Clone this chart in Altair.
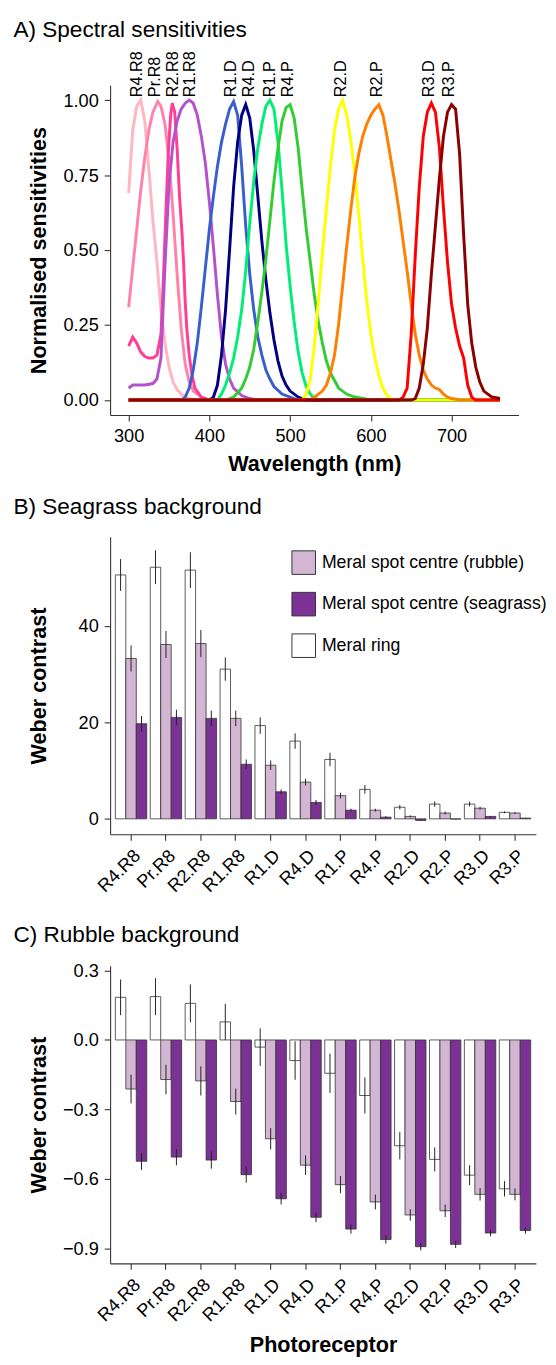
import altair as alt
import pandas as pd

FONT = "Liberation Sans"
AXC = "#333333"

# ---------------- Panel A: spectral sensitivities ----------------
curve_names = ["R4.R8", "Pr.R8", "R2.R8", "R1.R8", "R1.D", "R4.D",
               "R1.P", "R4.P", "R2.D", "R2.P", "R3.D", "R3.P"]
curve_colors = ["#FFB6C1", "#FF82AB", "#FF3E96", "#B452CD", "#3A5FCD", "#000080",
                "#00EE76", "#32CD32", "#FFFF00", "#FF7F00", "#FF0000", "#8B0000"]
label_wl = [311, 333, 355, 376, 427, 449, 475, 498, 563, 608, 672, 697]
label_y = 1.01

r4r8_wl = [300, 305, 310, 315, 320, 325, 330, 335, 340, 345, 350, 355, 360, 365, 370, 380, 760]
r4r8_v = [0.69, 0.90, 0.98, 1.00, 0.93, 0.77, 0.60, 0.46, 0.30, 0.19, 0.11, 0.06, 0.035, 0.02, 0.01, 0.0, 0.0]

prr8_wl = [300, 305, 310, 315, 320, 325, 330, 336, 340, 345, 350, 355, 360, 365, 370, 375, 380, 390, 400, 760]
prr8_v = [0.31, 0.44, 0.57, 0.70, 0.81, 0.90, 0.96, 0.995, 0.98, 0.92, 0.80, 0.62, 0.42, 0.24, 0.12, 0.06, 0.03, 0.01, 0.0, 0.0]

r2r8_wl = [300, 305, 310, 315, 320, 325, 330, 335, 340, 343, 346, 349, 352, 354, 357, 360, 363,
           366, 368, 370, 372, 375, 378, 382, 390, 400, 760]
r2r8_v = [0.18, 0.21, 0.19, 0.16, 0.145, 0.14, 0.14, 0.15, 0.22, 0.40, 0.62, 0.82, 0.95, 0.99, 0.96, 0.84, 0.68,
          0.56, 0.46, 0.33, 0.24, 0.15, 0.09, 0.04, 0.01, 0.0, 0.0]

r1r8_wl = [300, 305, 310, 320, 330, 335, 340, 345, 350, 355, 360, 365, 370, 375, 380, 385, 390, 395,
           400, 405, 410, 415, 420, 425, 430, 440, 450, 460, 760]
r1r8_v = [0.04, 0.05, 0.05, 0.05, 0.055, 0.07, 0.14, 0.45, 0.72, 0.86, 0.93, 0.97, 0.99, 1.0, 0.99, 0.95, 0.88, 0.79,
          0.66, 0.51, 0.35, 0.21, 0.12, 0.07, 0.04, 0.015, 0.005, 0.0, 0.0]

r1d_wl = [300, 365, 370, 375, 380, 385, 390, 395, 400, 405, 410, 415, 420, 425, 430, 435, 440, 445,
          450, 455, 460, 465, 470, 475, 480, 490, 500, 510, 760]
r1d_v = [0.0, 0.0, 0.01, 0.04, 0.10, 0.19, 0.31, 0.44, 0.57, 0.68, 0.78, 0.86, 0.92, 0.97, 0.995, 0.95, 0.78, 0.58,
         0.42, 0.30, 0.21, 0.15, 0.10, 0.07, 0.045, 0.02, 0.01, 0.0, 0.0]

r4d_wl = [300, 400, 405, 410, 415, 420, 425, 430, 435, 440, 445, 450, 455, 460, 465, 470, 475, 480,
          485, 490, 495, 500, 510, 520, 760]
r4d_v = [0.0, 0.0, 0.01, 0.05, 0.15, 0.30, 0.50, 0.71, 0.86, 0.95, 0.985, 0.94, 0.83, 0.68, 0.53, 0.40, 0.29, 0.20,
         0.13, 0.08, 0.05, 0.03, 0.01, 0.0, 0.0]

r1p_wl = [300, 410, 415, 420, 425, 430, 435, 440, 445, 450, 455, 460, 465, 470, 475, 480, 485, 490,
          495, 500, 505, 510, 515, 520, 525, 530, 540, 760]
r1p_v = [0.0, 0.0, 0.02, 0.05, 0.09, 0.14, 0.21, 0.30, 0.43, 0.59, 0.73, 0.84, 0.92, 0.98, 1.0, 0.97, 0.86, 0.70,
         0.52, 0.38, 0.26, 0.16, 0.09, 0.045, 0.02, 0.005, 0.0, 0.0]

r4p_wl = [300, 420, 430, 440, 445, 450, 455, 460, 465, 470, 475, 480, 485, 490, 495, 500, 505, 510,
          515, 520, 525, 530, 535, 540, 545, 550, 560, 570, 580, 600, 760]
r4p_v = [0.0, 0.0, 0.01, 0.04, 0.07, 0.11, 0.17, 0.26, 0.36, 0.47, 0.60, 0.73, 0.84, 0.93, 0.975, 0.985, 0.94, 0.84,
         0.70, 0.57, 0.46, 0.35, 0.26, 0.19, 0.13, 0.09, 0.04, 0.02, 0.01, 0.0, 0.0]

r2d_wl = [300, 515, 520, 525, 530, 535, 540, 545, 550, 555, 560, 565, 570, 575, 580, 585, 590, 595,
          600, 605, 610, 615, 620, 625, 630, 760]
r2d_v = [0.0, 0.0, 0.02, 0.07, 0.18, 0.33, 0.49, 0.64, 0.78, 0.90, 0.97, 1.0, 0.95, 0.87, 0.76, 0.62, 0.47, 0.33,
         0.22, 0.14, 0.08, 0.04, 0.015, 0.005, 0.0, 0.0]

r2p_wl = [300, 525, 530, 540, 545, 550, 555, 560, 565, 570, 575, 580, 585, 590, 595, 600, 605, 610,
          615, 620, 625, 630, 635, 640, 645, 650, 655, 660, 665, 670, 675, 680, 685, 690, 695, 700, 710, 760]
r2p_v = [0.0, 0.0, 0.01, 0.03, 0.05, 0.09, 0.15, 0.25, 0.38, 0.51, 0.63, 0.74, 0.82, 0.88, 0.92, 0.95, 0.97, 0.985,
         0.95, 0.88, 0.80, 0.72, 0.63, 0.53, 0.43, 0.32, 0.22, 0.15, 0.10, 0.07, 0.05, 0.04, 0.035, 0.02, 0.01, 0.005,
         0.0, 0.0]

r3d_wl = [300, 635, 640, 645, 650, 655, 660, 665, 670, 675, 680, 685, 690, 695, 700, 705, 710, 715,
          720, 725, 730, 760]
r3d_v = [0.0, 0.0, 0.01, 0.04, 0.22, 0.48, 0.71, 0.88, 0.96, 0.99, 0.96, 0.84, 0.64, 0.46, 0.32, 0.24, 0.18, 0.14,
         0.05, 0.01, 0.0, 0.0]

r3p_wl = [300, 650, 655, 660, 665, 670, 675, 680, 685, 690, 695, 700, 705, 710, 715, 720, 725, 730,
          735, 740, 745, 750, 760]
r3p_v = [0.0, 0.0, 0.005, 0.04, 0.12, 0.24, 0.42, 0.58, 0.74, 0.88, 0.96, 0.985, 0.97, 0.82, 0.55, 0.32, 0.19, 0.11,
         0.06, 0.03, 0.02, 0.01, 0.005]

curve_data = [(r4r8_wl, r4r8_v), (prr8_wl, prr8_v), (r2r8_wl, r2r8_v), (r1r8_wl, r1r8_v),
              (r1d_wl, r1d_v), (r4d_wl, r4d_v), (r1p_wl, r1p_v), (r4p_wl, r4p_v),
              (r2d_wl, r2d_v), (r2p_wl, r2p_v), (r3d_wl, r3d_v), (r3p_wl, r3p_v)]

# ---------------- Panels B & C: Weber contrasts ----------------
receptors = ["R4.R8", "Pr.R8", "R2.R8", "R1.R8", "R1.D", "R4.D",
             "R1.P", "R4.P", "R2.D", "R2.P", "R3.D", "R3.P"]
groups = ["Meral spot centre (rubble)", "Meral spot centre (seagrass)", "Meral ring"]
dodge_order = ["Meral ring", "Meral spot centre (rubble)", "Meral spot centre (seagrass)"]
group_colors = ["#D3B6D3", "#7B3294", "#FFFFFF"]

sg_ring = [50.5, 52.1, 51.5, 31.0, 19.3, 16.1, 12.3, 6.1, 2.4, 3.05, 3.05, 1.35]
sg_ring_se = [3.3, 3.5, 3.7, 2.4, 1.7, 1.6, 1.4, 0.9, 0.45, 0.55, 0.5, 0.2]
sg_rubble = [33.2, 36.1, 36.3, 20.8, 11.1, 7.6, 4.8, 1.8, 0.5, 1.2, 2.2, 1.2]
sg_rubble_se = [2.7, 2.8, 2.8, 1.6, 1.0, 0.7, 0.6, 0.3, 0.2, 0.3, 0.3, 0.2]
sg_seagrass = [19.7, 21.0, 20.8, 11.3, 5.6, 3.4, 1.8, 0.35, -0.33, -0.05, 0.5, 0.15]
sg_seagrass_se = [1.6, 1.6, 1.6, 1.0, 0.5, 0.5, 0.3, 0.2, 0.1, 0.05, 0.1, 0.05]

rb_ring = [0.184, 0.187, 0.158, 0.078, -0.031, -0.089, -0.144, -0.240, -0.457, -0.516, -0.584, -0.643]
rb_ring_se = [0.077, 0.080, 0.082, 0.078, 0.081, 0.083, 0.085, 0.078, 0.059, 0.052, 0.043, 0.033]
rb_rubble = [-0.212, -0.171, -0.177, -0.266, -0.427, -0.541, -0.625, -0.700, -0.756, -0.738, -0.667, -0.667]
rb_rubble_se = [0.062, 0.064, 0.063, 0.056, 0.046, 0.042, 0.037, 0.032, 0.025, 0.027, 0.027, 0.026]
rb_seagrass = [-0.524, -0.506, -0.519, -0.582, -0.686, -0.766, -0.817, -0.862, -0.893, -0.883, -0.834, -0.823]
rb_seagrass_se = [0.037, 0.035, 0.037, 0.035, 0.025, 0.021, 0.020, 0.018, 0.016, 0.016, 0.014, 0.014]

Y_TITLE_X = -65.4

# ---------- Panel A chart ----------
x_a = alt.X("wl:Q", scale=alt.Scale(domain=[277, 783], nice=False, zero=False),
            axis=alt.Axis(values=[300, 400, 500, 600, 700], title="Wavelength (nm)",
                          titleY=56.7, titleBaseline="alphabetic"))
y_a = alt.Y("v:Q", scale=alt.Scale(domain=[-0.05, 1.05], nice=False, zero=False),
            axis=alt.Axis(values=[0, 0.25, 0.5, 0.75, 1.0], format=".2f",
                          title="Normalised sensitivities", titleX=Y_TITLE_X,
                          titleBaseline="alphabetic"))

layers_a = []
for (wl, v), col in zip(curve_data, curve_colors):
    d = pd.DataFrame({"wl": wl, "v": v})
    layers_a.append(alt.Chart(d).mark_line(color=col, strokeWidth=3).encode(x=x_a, y=y_a))
lab_df = pd.DataFrame({"name": curve_names, "wl": label_wl, "v": [label_y] * len(curve_names)})
layers_a.append(
    alt.Chart(lab_df).mark_text(angle=270, align="left", baseline="middle", fontSize=16.5,
                                font=FONT, color="black")
    .encode(x=x_a, y=y_a, text="name:N")
)
panel_a = alt.layer(*layers_a).properties(
    width=416, height=336,
    title=alt.TitleParams("A) Spectral sensitivities", anchor="start", frame="group",
                          dx=-98.5, offset=-8.4, baseline="alphabetic"),
)


# ---------- bar panels ----------
def make_df(vals):
    rows = []
    for g, (m, s) in vals.items():
        for r, mv, sv in zip(receptors, m, s):
            rows.append({"receptor": r, "group": g, "mean": mv, "base": 0.0,
                         "lo": mv - sv, "hi": mv + sv})
    return pd.DataFrame(rows)


def bar_panel(df, title, domain, ticks, fmt, xtitle, xtitle_y, title_offset, legend):
    x = alt.X("receptor:N", sort=receptors,
              scale=alt.Scale(paddingInner=0.1, paddingOuter=0.15),
              axis=alt.Axis(labelAngle=-45, labelAlign="right", labelBaseline="top",
                            title=xtitle, titleY=xtitle_y, titleBaseline="alphabetic"))
    xo = alt.XOffset("group:N", sort=dodge_order,
                     scale=alt.Scale(paddingInner=0, paddingOuter=0))
    yscale = alt.Scale(domain=domain, nice=False, zero=False)
    yaxis = alt.Axis(values=ticks, format=fmt, title="Weber contrast",
                     titleX=Y_TITLE_X, titleBaseline="alphabetic")
    color = alt.Color("group:N", scale=alt.Scale(domain=groups, range=group_colors),
                      legend=legend)
    bars = alt.Chart(df).mark_bar(stroke=AXC, strokeWidth=0.8).encode(
        x=x, xOffset=xo,
        y=alt.Y("mean:Q", scale=yscale, axis=yaxis),
        y2="base:Q",
        color=color,
    )
    err = alt.Chart(df).mark_rule(color="#222222", strokeWidth=1).encode(
        x=x, xOffset=xo,
        y=alt.Y("lo:Q", scale=yscale, axis=yaxis),
        y2="hi:Q",
    )
    return alt.layer(bars, err).properties(
        width=433.7, height=303,
        title=alt.TitleParams(title, anchor="start", frame="group", dx=-98.5,
                              offset=title_offset, baseline="alphabetic"),
    )


df_b = make_df({
    "Meral ring": (sg_ring, sg_ring_se),
    "Meral spot centre (rubble)": (sg_rubble, sg_rubble_se),
    "Meral spot centre (seagrass)": (sg_seagrass, sg_seagrass_se),
})
df_c = make_df({
    "Meral ring": (rb_ring, rb_ring_se),
    "Meral spot centre (rubble)": (rb_rubble, rb_rubble_se),
    "Meral spot centre (seagrass)": (rb_seagrass, rb_seagrass_se),
})

legend_b = alt.Legend(title=None, orient="none", legendX=184.7, legendY=13.8,
                      symbolType="square", symbolSize=576, symbolStrokeColor=AXC,
                      symbolStrokeWidth=1, labelFont=FONT, labelFontSize=18,
                      labelColor="black", labelLimit=400, rowPadding=13.3,
                      labelOffset=6, padding=0)

panel_b = bar_panel(df_b, "B) Seagrass background", [-3.2, 58.4], [0, 20, 40], "d",
                    " ", 64.6, -0.25, legend_b)
panel_c = bar_panel(df_c, "C) Rubble background", [-0.965, 0.32],
                    [0.3, 0.0, -0.3, -0.6, -0.9], ".1f", "Photoreceptor", 89.8, -2.95, None)

chart = (
    alt.vconcat(panel_a, panel_b, panel_c, spacing=22)
    .resolve_scale(color="independent")
    .properties(padding={"left": 5, "top": -2, "right": 0, "bottom": 0})
    .configure_view(stroke=None)
    .configure_axis(labelFont=FONT, labelFontSize=18.5, labelColor="black",
                    titleFont=FONT, titleFontSize=22, titleFontWeight="bold",
                    titleColor="black", domainColor=AXC, domainWidth=1.1,
                    tickColor=AXC, tickWidth=1.1, tickSize=6, labelPadding=6, grid=False)
    .configure_title(font=FONT, fontSize=23, fontWeight="normal", color="black")
)

chart.save("out.html", embed_options={"renderer": "svg", "actions": False})
